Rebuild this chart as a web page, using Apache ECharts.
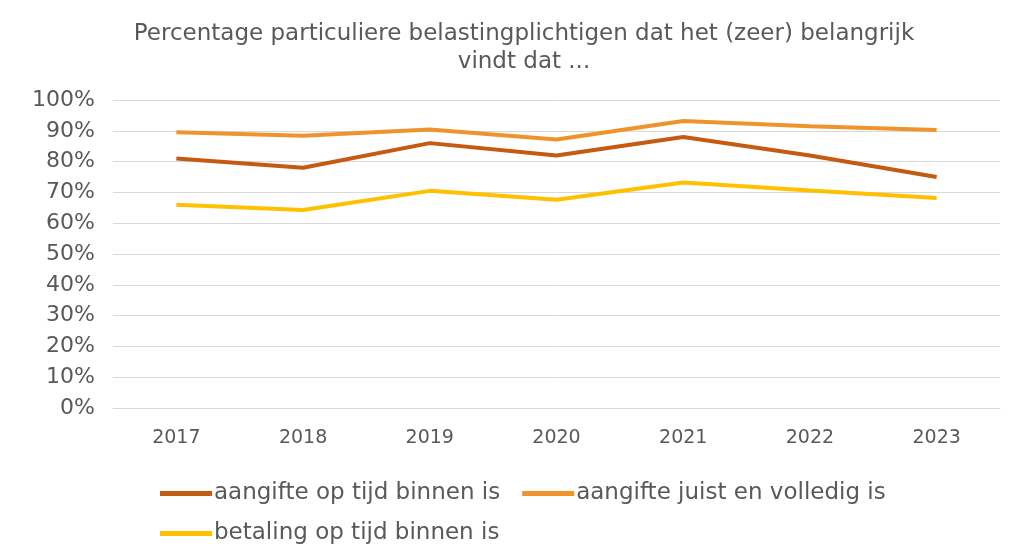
<!DOCTYPE html>
<html>
<head>
<meta charset="utf-8">
<style>
  html, body { margin: 0; padding: 0; background: #fff; }
  #chart { width: 1014px; height: 555px; }
</style>
</head>
<body>
<div id="chart"></div>
<script src="https://cdn.jsdelivr.net/npm/echarts@6/dist/echarts.min.js"></script>
<script>
// jaren op de x-as
var years = ['2017', '2018', '2019', '2020', '2021', '2022', '2023'];

// reeksen (percentages)
var seriesNames = ['aangifte op tijd binnen is', 'aangifte juist en volledig is', 'betaling op tijd binnen is'];
var opTijd = [81, 78, 86, 82, 88, 82, 75];
var juistVolledig = [89.5, 88.4, 90.4, 87.2, 93.2, 91.5, 90.3];
var betaling = [66, 64.3, 70.5, 67.6, 73.2, 70.6, 68.2];

var colors = ['#C55A11', '#F0932B', '#FFC000'];
var textColor = '#595959';
var font = '"DejaVu Sans", Verdana, sans-serif';

var chart = echarts.init(document.getElementById('chart'));

function lineSeries(name, data, color) {
    return {
        name: name,
        type: 'line',
        data: data,
        symbol: 'none',
        lineStyle: { color: color, width: 4 },
        itemStyle: { color: color },
        animation: false
    };
}

var legendText = { color: textColor, fontFamily: font, fontSize: 23, padding: [0, 0, 0, -3] };

var option = {
    backgroundColor: '#fff',
    title: {
        text: 'Percentage particuliere belastingplichtigen dat het (zeer) belangrijk\nvindt dat ...',
        left: 519,
        textAlign: 'center',
        top: 15,
        textStyle: {
            color: textColor,
            fontFamily: font,
            fontWeight: 'normal',
            fontSize: 23,
            lineHeight: 28
        }
    },
    legend: [{
        data: [seriesNames[0], seriesNames[1]],
        left: 155,
        top: 477,
        icon: 'rect',
        itemWidth: 52,
        itemHeight: 5,
        itemGap: 22,
        textStyle: legendText
    }, {
        data: [seriesNames[2]],
        left: 155,
        top: 517,
        icon: 'rect',
        itemWidth: 52,
        itemHeight: 5,
        textStyle: legendText
    }],
    grid: {
        left: 113,
        right: 14,
        top: 100,
        bottom: 147,
        containLabel: false
    },
    xAxis: {
        type: 'category',
        data: years,
        boundaryGap: true,
        axisLine: { show: true, lineStyle: { color: '#d9d9d9', width: 1 } },
        axisTick: { show: false },
        axisLabel: { color: textColor, fontFamily: font, fontSize: 19, margin: 21 }
    },
    yAxis: {
        type: 'value',
        min: 0,
        max: 100,
        interval: 10,
        axisLine: { show: false },
        axisTick: { show: false },
        splitLine: { lineStyle: { color: '#d9d9d9', width: 1 } },
        axisLabel: {
            color: textColor,
            fontFamily: font,
            fontSize: 22,
            margin: 18,
            formatter: '{value}%'
        }
    },
    series: [
        lineSeries(seriesNames[0], opTijd, colors[0]),
        lineSeries(seriesNames[1], juistVolledig, colors[1]),
        lineSeries(seriesNames[2], betaling, colors[2])
    ]
};

chart.setOption(option);
</script>
</body>
</html>
